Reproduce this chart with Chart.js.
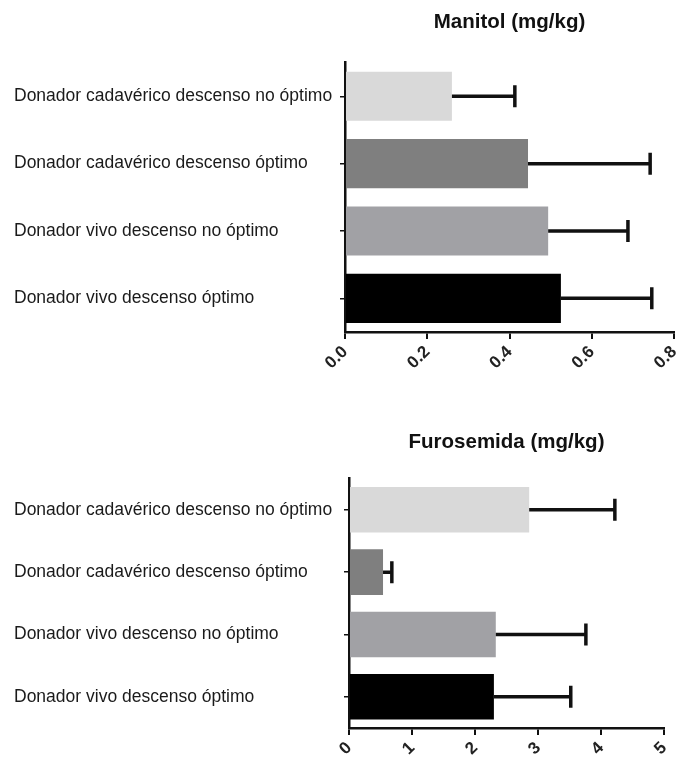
<!DOCTYPE html>
<html lang="es">
<head>
<meta charset="UTF-8">
<title>Manitol y Furosemida</title>
<style>
    body { margin: 0; background: #ffffff; }
    #wrap { position: relative; width: 677px; height: 759px; }
    canvas { position: absolute; left: 0; }
    #manitol { top: 0; }
    #furosemida { top: 400px; }
</style>
</head>
<body>
<div id="wrap">
    <canvas id="manitol" width="677" height="400"></canvas>
    <canvas id="furosemida" width="677" height="359"></canvas>
</div>
<script src="https://cdn.jsdelivr.net/npm/chart.js"></script>
<script>
    const categories = [
        'Donador cadavérico descenso no óptimo',
        'Donador cadavérico descenso óptimo',
        'Donador vivo descenso no óptimo',
        'Donador vivo descenso óptimo'
    ];
    const barColors = ['#d9d9d9', '#7f7f7f', '#a1a1a5', '#000000'];

    const manitolMean = [0.26, 0.445, 0.494, 0.525];
    const manitolErr = [0.153, 0.297, 0.194, 0.221];
    const manitolTicks = { min: 0, max: 0.8, step: 0.2, decimals: 1 };

    const furoMean = [2.86, 0.54, 2.33, 2.30];
    const furoErr = [1.36, 0.14, 1.43, 1.22];
    const furoTicks = { min: 0, max: 5, step: 1, decimals: 0 };

    // draws the upper half of each error bar, from the bar end to mean + err
    const errorBars = {
        id: 'errorBars',
        afterDatasetsDraw(chart) {
            const errs = chart.options.plugins.errorBars.values;
            const meta = chart.getDatasetMeta(0);
            const xs = chart.scales.x;
            const ctx = chart.ctx;
            ctx.save();
            ctx.strokeStyle = '#111';
            ctx.lineWidth = 3.5;
            meta.data.forEach((bar, i) => {
                const v = chart.data.datasets[0].data[i] + errs[i];
                const x1 = xs.getPixelForValue(v);
                ctx.beginPath();
                ctx.moveTo(bar.x, bar.y);
                ctx.lineTo(x1, bar.y);
                ctx.moveTo(x1, bar.y - 11);
                ctx.lineTo(x1, bar.y + 11);
                ctx.stroke();
            });
            ctx.restore();
        }
    };

    function makeChart(id, title, means, errs, t, opts) {
        return new Chart(document.getElementById(id), {
            type: 'bar',
            data: {
                labels: categories,
                datasets: [{
                    data: means,
                    backgroundColor: barColors,
                    borderWidth: 0,
                    barPercentage: 0.73,
                    categoryPercentage: 1.0
                }]
            },
            options: {
                indexAxis: 'y',
                responsive: false,
                animation: false,
                layout: { padding: { left: 14, right: opts.right, top: 0, bottom: opts.bottom } },
                plugins: {
                    legend: { display: false },
                    tooltip: { enabled: false },
                    errorBars: { values: errs },
                    title: {
                        display: true,
                        text: title,
                        fullSize: false,
                        color: '#111',
                        font: { family: 'Liberation Sans, Arial, sans-serif', size: 20.5, weight: 'bold' },
                        padding: { top: opts.titleTop, bottom: opts.titleBottom }
                    }
                },
                scales: {
                    x: {
                        min: t.min,
                        max: t.max,
                        afterFit(s) {
                            s.height = opts.xHeight;
                            s.paddingRight = 0;
                        },
                        border: { display: true, color: '#111', width: 2.5 },
                        grid: { drawOnChartArea: false, drawTicks: true, tickLength: 7, color: '#111', lineWidth: 2 },
                        ticks: {
                            stepSize: t.step,
                            minRotation: 45,
                            maxRotation: 45,
                            padding: 3,
                            color: '#222',
                            font: { family: 'Liberation Sans, Arial, sans-serif', size: 17, weight: 'bold' },
                            callback: v => Number(v).toFixed(t.decimals)
                        }
                    },
                    y: {
                        afterFit(s) { s.width = opts.yWidth; },
                        border: { display: true, color: '#111', width: 2.5 },
                        grid: { offset: false, drawOnChartArea: false, drawTicks: true, tickLength: 5, color: '#111', lineWidth: 1.5 },
                        ticks: {
                            crossAlign: 'far',
                            color: '#1a1a1a',
                            font: { family: 'Liberation Sans, Arial, sans-serif', size: 17.5 }
                        }
                    }
                }
            },
            plugins: [errorBars]
        });
    }

    makeChart('manitol', 'Manitol (mg/kg)', manitolMean, manitolErr, manitolTicks,
        { right: 3, bottom: 18, xHeight: 50, titleTop: 10, titleBottom: 28, yWidth: 331 });
    makeChart('furosemida', 'Furosemida (mg/kg)', furoMean, furoErr, furoTicks,
        { right: 13, bottom: 0, xHeight: 31, titleTop: 30, titleBottom: 24, yWidth: 335 });
</script>
</body>
</html>
